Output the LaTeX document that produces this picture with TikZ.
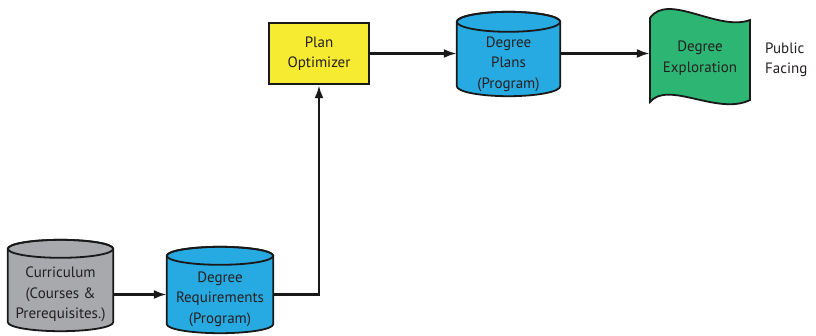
\documentclass[tikz,border=0pt]{standalone}
\usepackage{fontspec}
\setmainfont{PT Sans}
\usetikzlibrary{calc,arrows.meta,backgrounds}
\definecolor{inkgray}{HTML}{231F20}
\definecolor{curgray}{HTML}{A7A9AC}
\definecolor{dbblue}{HTML}{27AAE1}
\definecolor{optyellow}{HTML}{F6EB31}
\definecolor{pubgreen}{HTML}{2DB673}
% cylinder behind a named node: node, fill colour, half depth of the lid
\newcommand{\drum}[3]{%
  \begin{scope}[on background layer]
    \draw[drumline,fill=#2] let \p1=($(#1.east)-(#1.center)$) in
      ([yshift=#3]#1.north west) -- ([yshift=#3]#1.south west)
      arc[start angle=180,end angle=360,x radius=\x1,y radius=#3]
      -- ([yshift=#3]#1.north east)
      arc[start angle=0,end angle=180,x radius=\x1,y radius=#3] -- cycle;
    \draw[drumline] let \p1=($(#1.east)-(#1.center)$) in
      ([yshift=#3]#1.north) ellipse[x radius=\x1,y radius=#3];
  \end{scope}
}
\tikzset{
            txt/.style={font=\fontsize{15}{20.5}\selectfont,text=inkgray,align=center,inner sep=0pt},
            store/.style={txt,minimum width=#1},
            drumline/.style={line width=1.8pt,draw=black!90},
            optbox/.style={txt,draw=black!90,line width=2.4pt,fill=optyellow,minimum width=100pt,minimum height=61pt},
            link/.style={line width=2.4pt,draw=black!90,-{Latex[length=13pt,width=9pt]}}
        }

\begin{document}
\begin{tikzpicture}[x=1pt,y=-1pt]
                \useasboundingbox (0,0) rectangle (816,335);
                \node[store=105pt,minimum height=73pt] (cur) at (60.5,294.5) {Curriculum\\(Courses \&\\Prerequisites.)};
                \node[store=106pt,minimum height=68pt] (req) at (220,299) {Degree\\Requirements\\(Program)};
                \node[optbox] (opt) at (319,53.5) {Plan\\Optimizer};
                \node[store=103pt,minimum height=64pt] (plans) at (508.5,64) {Degree\\Plans\\(Program)};
                \node[txt,minimum width=100pt,minimum height=84pt] (expl) at (700,58) {Degree\\Exploration};
                \node[txt,align=left,anchor=west] (pub) at (765,60) {Public\\Facing};
                \drum{cur}{curgray}{9pt}
                \drum{req}{dbblue}{9pt}
                \drum{plans}{dbblue}{10pt}
                \begin{scope}[on background layer]
                    \draw[drumline,fill=pubgreen] (650,18) .. controls (668,-8) and (718,32) .. (750,20)
                        -- (750,100) .. controls (718,116) and (668,80) .. (650,102) -- cycle;
                \end{scope}
                \draw[link] (cur.east) -- (cur.east -| req.west);
                \draw[link] (req.east |- cur.east) -| (opt.south);
                \draw[link] (opt.east) -- (opt.east -| plans.west);
                \draw[link] (plans.east |- opt.east) -- (expl.west |- opt.east);
            \end{tikzpicture}
\end{document}
